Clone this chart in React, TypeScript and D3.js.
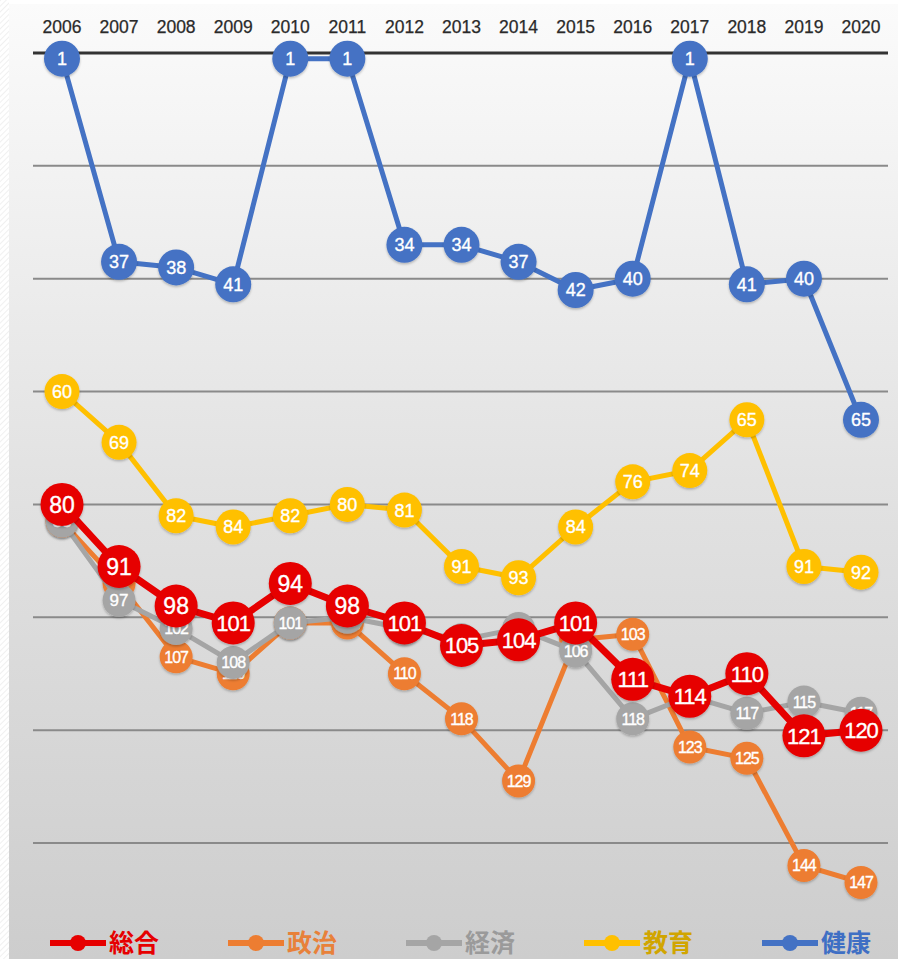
import React from "react";
import * as d3 from "d3";

const years = ["2006","2007","2008","2009","2010","2011","2012","2013","2014","2015","2016","2017","2018","2019","2020"];
const overall = [80, 91, 98, 101, 94, 98, 101, 105, 104, 101, 111, 114, 110, 121, 120];
const politics = [83, 94, 107, 110, 101, 101, 110, 118, 129, 104, 103, 123, 125, 144, 147];
const economy = [83, 97, 102, 108, 101, 100, 102, 104, 102, 106, 118, 114, 117, 115, 117];
const education = [60, 69, 82, 84, 82, 80, 81, 91, 93, 84, 76, 74, 65, 91, 92];
const health = [1, 37, 38, 41, 1, 1, 34, 34, 37, 42, 40, 1, 41, 40, 65];
const gridTicks = [0, 20, 40, 60, 80, 100, 120, 140];

const W = 898, H = 959;

type S = { name: string; values: number[]; color: string; text: string; r: number; lw: number; fs: number; fs3: number };
const drawOrder: S[] = [
  { name: "政治", values: politics, color: "#ed7d31", text: "#e8813a", r: 16.5, lw: 5, fs: 17, fs3: 16 },
  { name: "経済", values: economy, color: "#a5a5a5", text: "#9a9a9a", r: 16.5, lw: 5, fs: 17, fs3: 16 },
  { name: "教育", values: education, color: "#ffc000", text: "#d1a500", r: 17.5, lw: 5, fs: 18, fs3: 17 },
  { name: "総合", values: overall, color: "#e60000", text: "#e60000", r: 21.5, lw: 7, fs: 23, fs3: 22 },
  { name: "健康", values: health, color: "#4472c4", text: "#3f6fc4", r: 18, lw: 5, fs: 18, fs3: 17 },
];
const legendOrder = ["総合", "政治", "経済", "教育", "健康"];

export default function App() {
  const x = d3.scalePoint<string>().domain(years).range([62, 861]);
  const y = d3.scaleLinear().domain([0, 140]).range([53, 843]);
  const line = d3.line<number>().x((_, i) => x(years[i]) as number).y((v) => y(v));
  const font = "'Liberation Sans', Arial, Helvetica, sans-serif";

  return (
    <svg width={W} height={H} style={{ position: "absolute", left: 0, top: 0 }} fontFamily={font}>
      <defs>
        <linearGradient id="bg" x1="0" y1="0" x2="0" y2="1">
          <stop offset="0" stopColor="#fbfbfb" />
          <stop offset="0.5" stopColor="#e2e2e2" />
          <stop offset="1" stopColor="#cdcdcd" />
        </linearGradient>
        <pattern id="hatch" width="4" height="4" patternUnits="userSpaceOnUse" patternTransform="rotate(45)">
          <rect width="4" height="4" fill="#ffffff" />
          <line x1="0" y1="0" x2="0" y2="4" stroke="#ececec" strokeWidth="1.5" />
        </pattern>
        <filter id="sh" x="-30%" y="-30%" width="160%" height="160%">
          <feDropShadow dx="0" dy="1.5" stdDeviation="1.2" floodColor="#000" floodOpacity="0.25" />
        </filter>
      </defs>
      <rect x={0} y={0} width={W} height={H} fill="#ffffff" />
      <rect x={0} y={0} width={9} height={H} fill="url(#hatch)" />
      <rect x={9} y={4} width={W - 9} height={H - 4} fill="url(#bg)" />

      {years.map((yr) => (
        <text key={yr} x={x(yr)} y={33} textAnchor="middle" fontSize={17.5} fill="#2a2a2a"
          stroke="#2a2a2a" strokeWidth={0.25}>{yr}</text>
      ))}

      {gridTicks.map((t) => (
        <line key={t} x1={33} x2={888} y1={y(t)} y2={y(t)}
          stroke={t === 0 ? "#333" : "#8a8a8a"} strokeWidth={t === 0 ? 3 : 2} />
      ))}

      {drawOrder.map((s) => (
        <g key={s.name}>
          <path d={line(s.values) || ""} fill="none" stroke={s.color} strokeWidth={s.lw} strokeLinejoin="round" />
          {s.values.map((v, i) => (
            <g key={i}>
              <circle cx={x(years[i])} cy={y(v)} r={s.r} fill={s.color} filter="url(#sh)" />
              <text x={x(years[i])} y={y(v)} dy="0.36em" textAnchor="middle"
                fontSize={v >= 100 ? s.fs3 : s.fs} letterSpacing={v >= 100 ? -1 : 0}
                fill="#fff" stroke="#fff" strokeWidth={0.35}>{v}</text>
            </g>
          ))}
        </g>
      ))}

      {legendOrder.map((name, i) => {
        const s = drawOrder.find((d) => d.name === name)!;
        const x0 = 50 + i * 178;
        const cy = 943;
        return (
          <g key={name}>
            <line x1={x0} x2={x0 + 56} y1={cy} y2={cy} stroke={s.color} strokeWidth={6} />
            <circle cx={x0 + 28} cy={cy} r={8} fill={s.color} />
            <text x={x0 + 59} y={cy} dy="0.36em" fontSize={25} fontWeight="bold" fill={s.text}
              fontFamily="'Noto Sans CJK JP', sans-serif">{name}</text>
          </g>
        );
      })}
    </svg>
  );
}
